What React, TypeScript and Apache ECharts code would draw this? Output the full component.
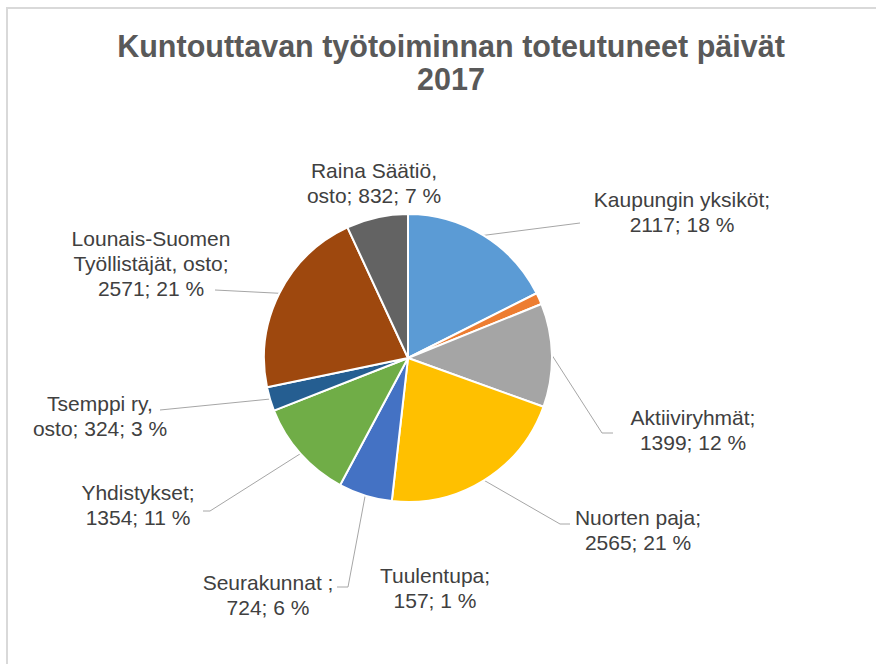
import React, { useEffect, useRef } from "react";
import * as echarts from "echarts";

// ---- data ----
const categories = [
  "Kaupungin yksiköt",
  "Tuulentupa",
  "Aktiiviryhmät",
  "Nuorten paja",
  "Seurakunnat ",
  "Yhdistykset",
  "Tsemppi ry,\nosto",
  "Lounais-Suomen\nTyöllistäjät, osto",
  "Raina Säätiö,\nosto",
];
const values = [2117, 157, 1399, 2565, 724, 1354, 324, 2571, 832];
const colors = [
  "#5B9BD5",
  "#ED7D31",
  "#A5A5A5",
  "#FFC000",
  "#4472C4",
  "#70AD47",
  "#255E91",
  "#9E480E",
  "#636363",
];
// whether "value; percent" starts on a new line after the name
const valueOnNewLine = [true, true, true, true, true, true, false, true, false];
const showLeader = [true, false, true, true, true, true, true, true, false];

// ---- label layout (label centres and leader-line end points) ----
const labelCenters: [number, number][] = [
  [682, 212],
  [435, 588],
  [693, 430],
  [638, 530],
  [268, 595],
  [138, 505],
  [100, 416],
  [151, 263],
  [374, 183],
];
const leaderBends: [number, number][][] = [
  [[580, 223], [580, 223]],
  [[435, 588], [435, 588]],
  [[602, 433], [613, 433]],
  [[560, 524], [570, 524]],
  [[348, 587], [337, 587]],
  [[210, 511], [203, 511]],
  [[160, 410], [160, 410]],
  [[215, 290], [215, 290]],
  [[374, 183], [374, 183]],
];

const TITLE = "Kuntouttavan työtoiminnan toteutuneet päivät\n2017";
const FONT = "'Liberation Sans', Arial, sans-serif";

export default function App() {
  const ref = useRef<HTMLDivElement>(null);
  useEffect(() => {
    if (!ref.current) return;
    const chart = echarts.init(ref.current, undefined, { renderer: "svg" });
    const cx = 408;
    const cy = 358;
    const r = 144;
    const total = values.reduce((a, b) => a + b, 0);
    const edgePoint = (i: number): [number, number] => {
      let before = 0;
      for (let k = 0; k < i; k++) before += values[k];
      const mid = ((before + values[i] / 2) / total) * Math.PI * 2;
      return [cx + r * Math.sin(mid), cy - r * Math.cos(mid)];
    };
    chart.setOption({
      animation: false,
      backgroundColor: "#ffffff",
      title: {
        text: TITLE,
        left: 446,
        top: 24,
        textAlign: "center",
        textStyle: {
          fontFamily: FONT,
          fontSize: 30.5,
          fontWeight: "bold",
          color: "#595959",
          lineHeight: 33,
        },
      },
      graphic: [
        {
          type: "rect",
          shape: { x: 7, y: 8, width: 900, height: 700 },
          style: { fill: "none", stroke: "#d9d9d9", lineWidth: 2 },
          silent: true,
        },
      ],
      series: [
        {
          type: "pie",
          center: [cx, cy],
          radius: r,
          startAngle: 90,
          clockwise: true,
          avoidLabelOverlap: false,
          itemStyle: { borderColor: "#ffffff", borderWidth: 2 },
          label: {
            show: true,
            position: "outside",
            fontFamily: FONT,
            fontSize: 21,
            lineHeight: 25,
            color: "#404040",
            align: "center",
            formatter: (p: any) => {
              const i = p.dataIndex;
              const pct = Math.round(p.percent);
              const sep = valueOnNewLine[i] ? ";\n" : "; ";
              return `${categories[i]}${sep}${p.value}; ${pct} %`;
            },
          },
          labelLine: {
            show: true,
            lineStyle: { color: "#a6a6a6", width: 1 },
            length: 10,
            length2: 10,
          },
          labelLayout: (params: any) => {
            const i = params.dataIndex;
            const start =
              params.labelLinePoints && params.labelLinePoints[0]
                ? params.labelLinePoints[0]
                : edgePoint(i);
            return {
              x: labelCenters[i][0],
              y: labelCenters[i][1],
              align: "center",
              verticalAlign: "middle",
              labelLinePoints: [start, leaderBends[i][0], leaderBends[i][1]],
            };
          },
          data: values.map((v, i) => ({
            value: v,
            name: categories[i],
            itemStyle: { color: colors[i] },
            labelLine: { show: showLeader[i] },
          })),
        },
      ],
    });
    return () => chart.dispose();
  }, []);
  return (
    <div
      ref={ref}
      style={{ position: "fixed", left: 0, top: 0, width: 876, height: 664 }}
    />
  );
}
